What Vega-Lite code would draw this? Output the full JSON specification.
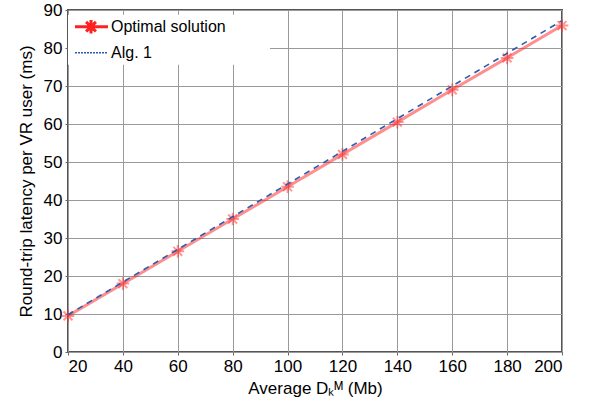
{
  "$schema": "https://vega.github.io/schema/vega-lite/v6.json",
  "width": 494,
  "height": 342,
  "autosize": "none",
  "padding": {"left": 68, "top": 10, "right": 29, "bottom": 57},
  "background": "white",
  "config": {
    "font": "Liberation Sans",
    "view": {"stroke": "#555555", "strokeWidth": 2},
    "axis": {
      "labelFont": "Liberation Sans",
      "titleFont": "Liberation Sans",
      "labelFontSize": 17,
      "titleFontSize": 17,
      "titleFontWeight": "normal",
      "labelColor": "#000000",
      "titleColor": "#000000",
      "gridColor": "#9a9a9a",
      "gridWidth": 1,
      "gridOpacity": 1,
      "domain": false,
      "tickColor": "#666666",
      "tickSize": 3
    }
  },
  "data": {
    "values": [
      {"x": 20, "series": "Optimal solution", "y": 9.5},
      {"x": 40, "series": "Optimal solution", "y": 18.0},
      {"x": 60, "series": "Optimal solution", "y": 26.5},
      {"x": 80, "series": "Optimal solution", "y": 35.0},
      {"x": 100, "series": "Optimal solution", "y": 43.5},
      {"x": 120, "series": "Optimal solution", "y": 52.0},
      {"x": 140, "series": "Optimal solution", "y": 60.5},
      {"x": 160, "series": "Optimal solution", "y": 69.0},
      {"x": 180, "series": "Optimal solution", "y": 77.4},
      {"x": 200, "series": "Optimal solution", "y": 85.9},
      {"x": 20, "series": "Alg. 1", "y": 9.8},
      {"x": 40, "series": "Alg. 1", "y": 18.4},
      {"x": 60, "series": "Alg. 1", "y": 27.0},
      {"x": 80, "series": "Alg. 1", "y": 35.6},
      {"x": 100, "series": "Alg. 1", "y": 44.2},
      {"x": 120, "series": "Alg. 1", "y": 52.8},
      {"x": 140, "series": "Alg. 1", "y": 61.4},
      {"x": 160, "series": "Alg. 1", "y": 70.0},
      {"x": 180, "series": "Alg. 1", "y": 78.6},
      {"x": 200, "series": "Alg. 1", "y": 87.2}
    ]
  },
  "encoding": {
    "x": {
      "field": "x",
      "type": "quantitative",
      "scale": {"domain": [20, 200], "nice": false, "zero": false},
      "axis": {"values": [20, 40, 60, 80, 100, 120, 140, 160, 180, 200], "title": "Average Dₖᴹ (Mb)", "titlePadding": 6, "labelPadding": 3}
    },
    "y": {
      "field": "y",
      "type": "quantitative",
      "scale": {"domain": [0, 90], "nice": false},
      "axis": {"values": [0, 10, 20, 30, 40, 50, 60, 70, 80, 90], "title": "Round-trip latency per VR user (ms)", "titlePadding": 8, "labelPadding": 3}
    }
  },
  "layer": [
    {
      "transform": [{"filter": "datum.series === 'Optimal solution'"}],
      "mark": {"type": "line", "strokeWidth": 3, "strokeOpacity": 0.5},
      "encoding": {
        "color": {
          "field": "series",
          "type": "nominal",
          "scale": {"domain": ["Optimal solution", "Alg. 1"], "range": ["#ff2020", "#2a5db0"]},
          "legend": {
            "title": null,
            "orient": "none",
            "legendX": 0,
            "legendY": 4.7,
            "padding": 4,
            "fillColor": "white",
            "labelFont": "Liberation Sans",
            "labelFontSize": 16,
            "labelColor": "#000000",
            "labelExpr": "datum.label + '\u2002\u2002\u2002\u2002\u2002\u200b'",
            "labelLimit": 400,
            "symbolSize": 256,
            "labelOffset": 23,
            "rowPadding": 5,
            "symbolStrokeWidth": 2,
            "symbolFillColor": "transparent",
            "encode": {
              "symbols": {
                "update": {
                  "shape": {"signal": "datum.value === 'Optimal solution' ? 'M-0.625,0L3.5,0M1.375,-0.85L1.375,0.85M0.5,0L2.25,0M0.76,-0.6L1.99,0.6M0.76,0.6L1.99,-0.6' : 'M-0.625,0L3.5,0'"},
                  "strokeDash": {"signal": "datum.value === 'Optimal solution' ? [1, 0] : [2, 1]"},
                  "strokeWidth": {"signal": "datum.value === 'Optimal solution' ? 3 : 1.5"}
                }
              }
            }
          }
        }
      }
    },
    {
      "transform": [{"filter": "datum.series === 'Optimal solution'"}],
      "mark": {
        "type": "point",
        "shape": "M-1,0L1,0M0,-1L0,1M-0.7,-0.7L0.7,0.7M-0.7,0.7L0.7,-0.7",
        "size": 160,
        "filled": false,
        "stroke": "#ff3030",
        "strokeWidth": 2,
        "opacity": 0.5
      }
    },
    {
      "transform": [{"filter": "datum.series === 'Alg. 1'"}],
      "mark": {"type": "line", "strokeWidth": 1.6, "strokeDash": [6, 5], "stroke": "#2a5db0"},
      "encoding": {"color": {"field": "series", "type": "nominal"}}
    }
  ]
}
